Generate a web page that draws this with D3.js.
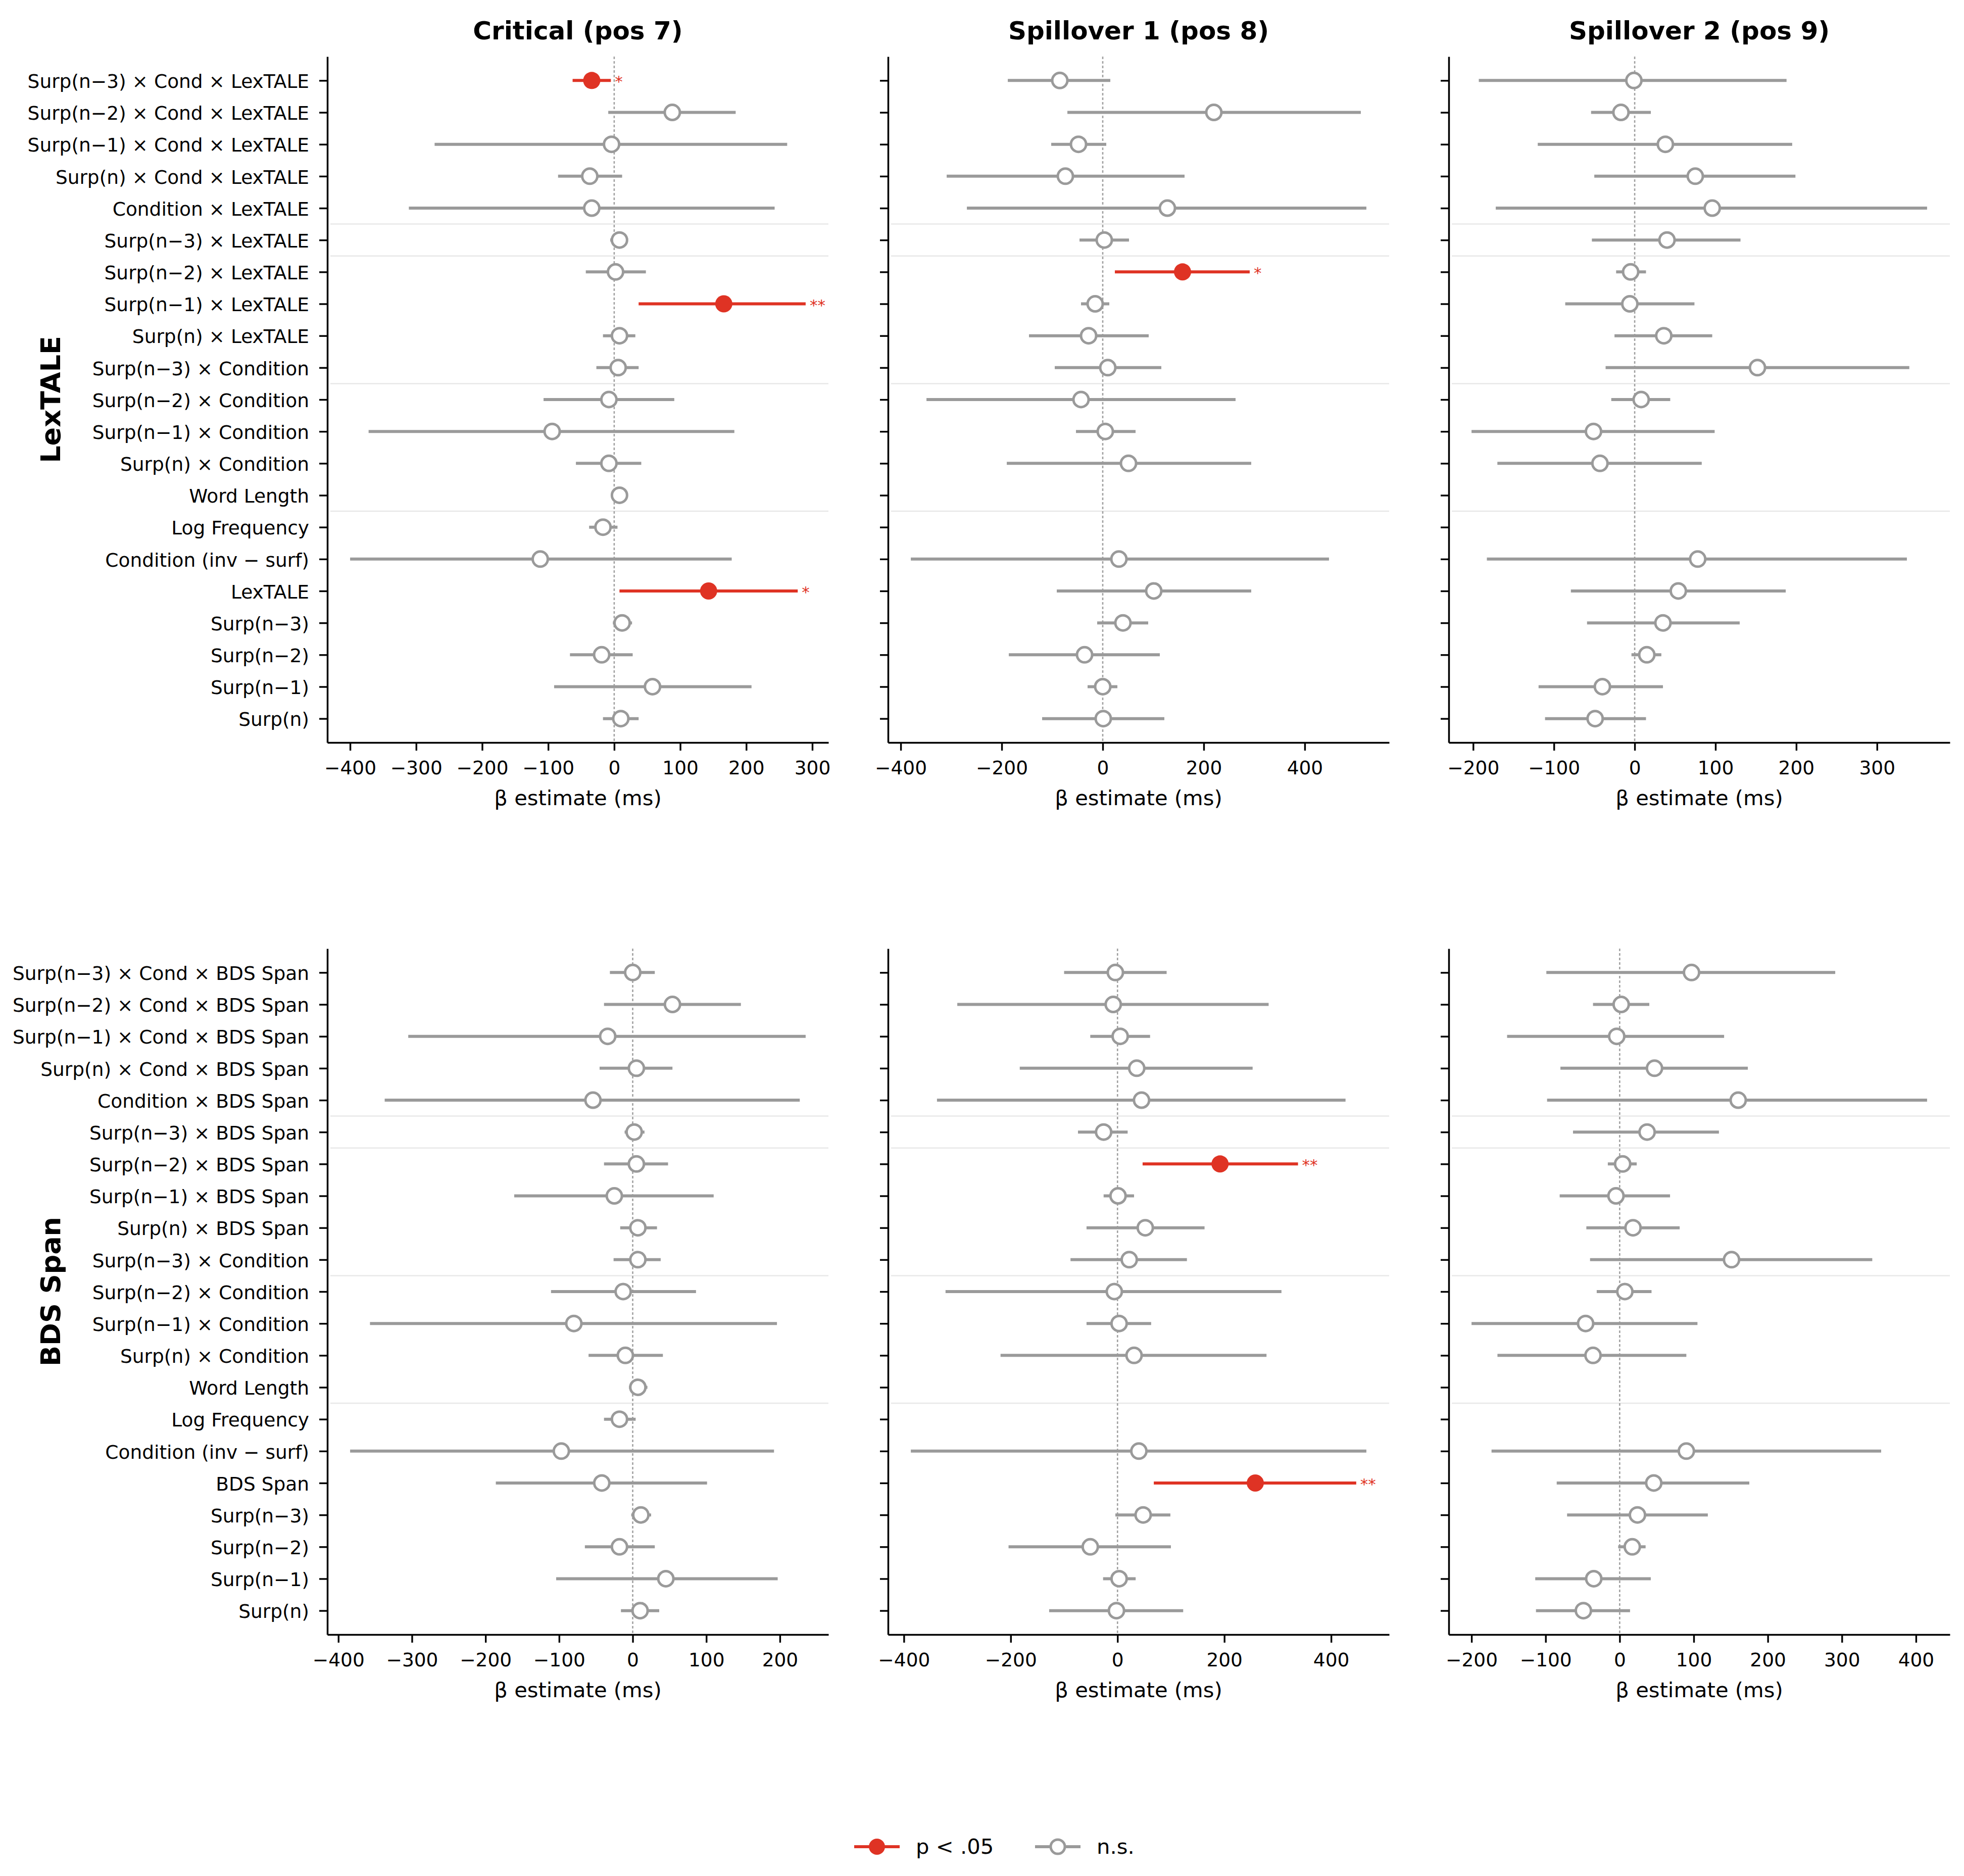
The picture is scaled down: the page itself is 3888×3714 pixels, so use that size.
<!DOCTYPE html>
<html><head><meta charset="utf-8">
<script src="https://cdn.jsdelivr.net/npm/d3@7"></script>
<style>body{margin:0;background:#fff}</style>
</head><body>
<svg id="c" width="3888" height="3714" xmlns="http://www.w3.org/2000/svg"></svg>
<script>
// ---------------- DATA ----------------
const lexLabels = [
  "Surp(n\u22123) \u00d7 Cond \u00d7 LexTALE", "Surp(n\u22122) \u00d7 Cond \u00d7 LexTALE",
  "Surp(n\u22121) \u00d7 Cond \u00d7 LexTALE", "Surp(n) \u00d7 Cond \u00d7 LexTALE",
  "Condition \u00d7 LexTALE", "Surp(n\u22123) \u00d7 LexTALE", "Surp(n\u22122) \u00d7 LexTALE",
  "Surp(n\u22121) \u00d7 LexTALE", "Surp(n) \u00d7 LexTALE", "Surp(n\u22123) \u00d7 Condition",
  "Surp(n\u22122) \u00d7 Condition", "Surp(n\u22121) \u00d7 Condition", "Surp(n) \u00d7 Condition",
  "Word Length", "Log Frequency", "Condition (inv \u2212 surf)", "LexTALE",
  "Surp(n\u22123)", "Surp(n\u22122)", "Surp(n\u22121)", "Surp(n)"
];
const bdsLabels = [
  "Surp(n\u22123) \u00d7 Cond \u00d7 BDS Span", "Surp(n\u22122) \u00d7 Cond \u00d7 BDS Span",
  "Surp(n\u22121) \u00d7 Cond \u00d7 BDS Span", "Surp(n) \u00d7 Cond \u00d7 BDS Span",
  "Condition \u00d7 BDS Span", "Surp(n\u22123) \u00d7 BDS Span", "Surp(n\u22122) \u00d7 BDS Span",
  "Surp(n\u22121) \u00d7 BDS Span", "Surp(n) \u00d7 BDS Span", "Surp(n\u22123) \u00d7 Condition",
  "Surp(n\u22122) \u00d7 Condition", "Surp(n\u22121) \u00d7 Condition", "Surp(n) \u00d7 Condition",
  "Word Length", "Log Frequency", "Condition (inv \u2212 surf)", "BDS Span",
  "Surp(n\u22123)", "Surp(n\u22122)", "Surp(n\u22121)", "Surp(n)"
];
const panelTitles = ["Critical (pos 7)", "Spillover 1 (pos 8)", "Spillover 2 (pos 9)"];
const rowTitles = ["LexTALE", "BDS Span"];
const separatorRows = [4.5, 5.5, 9.5, 13.5];
const xAxisLabel = "\u03b2 estimate (ms)";
const legendLabels = ["p < .05", "n.s."];

// LexTALE, Critical (pos 7)
const lexCritEst = [-34, 88, -4, -37, -34, 8, 2, 166, 8, 6, -8, -94, -8, 8, -17, -112, 143, 12, -19, 58, 10];
const lexCritLo  = [-63, -9, -272, -85, -311, -6, -43, 37, -17, -27, -107, -372, -58, -4, -38, -400, 8, -2, -67, -91, -17];
const lexCritHi  = [-5, 184, 262, 12, 243, 18, 48, 290, 32, 37, 91, 182, 41, 20, 5, 178, 278, 27, 28, 208, 37];
const lexCritSig = ["*", "", "", "", "", "", "", "**", "", "", "", "", "", "", "", "", "*", "", "", "", ""];
// LexTALE, Spillover 1 (pos 8)
const lexSp1Est = [-85, 220, -48, -74, 128, 3, 158, -15, -28, 10, -43, 5, 51, null, null, 32, 101, 40, -36, 0, 1];
const lexSp1Lo  = [-188, -70, -102, -309, -269, -46, 24, -43, -146, -95, -349, -53, -190, null, null, -380, -91, -11, -186, -30, -120];
const lexSp1Hi  = [15, 511, 7, 162, 522, 52, 291, 13, 91, 116, 263, 65, 294, null, null, 448, 294, 90, 113, 29, 122];
const lexSp1Sig = ["", "", "", "", "", "", "*", "", "", "", "", "", "", "", "", "", "", "", "", "", ""];
// LexTALE, Spillover 2 (pos 9)
const lexSp2Est = [-1, -17, 38, 75, 96, 40, -5, -6, 36, 152, 8, -51, -43, null, null, 78, 54, 35, 15, -40, -49];
const lexSp2Lo  = [-193, -54, -120, -50, -172, -53, -23, -86, -25, -36, -29, -202, -170, null, null, -183, -79, -59, -4, -119, -111];
const lexSp2Hi  = [188, 20, 195, 199, 362, 131, 14, 74, 96, 340, 44, 99, 83, null, null, 337, 187, 130, 33, 35, 14];
const lexSp2Sig = ["", "", "", "", "", "", "", "", "", "", "", "", "", "", "", "", "", "", "", "", ""];
// BDS Span, Critical (pos 7)
const bdsCritEst = [0, 54, -34, 5, -54, 2, 5, -25, 7, 7, -13, -80, -10, 7, -18, -97, -42, 11, -18, 45, 10];
const bdsCritLo  = [-31, -39, -305, -45, -337, -11, -39, -161, -17, -26, -111, -357, -60, -5, -39, -384, -186, -2, -65, -104, -16];
const bdsCritHi  = [30, 147, 235, 54, 227, 16, 48, 110, 33, 38, 86, 196, 41, 20, 4, 192, 101, 25, 30, 197, 36];
const bdsCritSig = ["", "", "", "", "", "", "", "", "", "", "", "", "", "", "", "", "", "", "", "", ""];
// BDS Span, Spillover 1 (pos 8)
const bdsSp1Est = [-4, -8, 5, 36, 45, -26, 192, 1, 52, 22, -6, 3, 31, null, null, 40, 258, 48, -51, 3, -2];
const bdsSp1Lo  = [-100, -300, -51, -183, -338, -74, 47, -26, -58, -88, -322, -58, -219, null, null, -387, 68, -4, -204, -27, -128];
const bdsSp1Hi  = [92, 283, 61, 253, 427, 19, 338, 31, 163, 130, 307, 63, 279, null, null, 466, 447, 99, 100, 34, 123];
const bdsSp1Sig = ["", "", "", "", "", "", "**", "", "", "", "", "", "", "", "", "", "**", "", "", "", ""];
// BDS Span, Spillover 2 (pos 9)
const bdsSp2Est = [97, 2, -4, 47, 160, 37, 4, -5, 18, 151, 7, -46, -36, null, null, 90, 46, 24, 17, -35, -49];
const bdsSp2Lo  = [-99, -36, -152, -80, -98, -63, -16, -81, -45, -40, -31, -200, -165, null, null, -173, -85, -71, -2, -114, -113];
const bdsSp2Hi  = [291, 40, 141, 173, 415, 134, 23, 68, 81, 341, 43, 105, 90, null, null, 353, 175, 119, 35, 42, 14];
const bdsSp2Sig = ["", "", "", "", "", "", "", "", "", "", "", "", "", "", "", "", "", "", "", "", ""];

// tick values
const ticksCritLex = [-400, -300, -200, -100, 0, 100, 200, 300];
const ticksSp1 = [-400, -200, 0, 200, 400];
const ticksSp2Lex = [-200, -100, 0, 100, 200, 300];
const ticksCritBds = [-400, -300, -200, -100, 0, 100, 200];
const ticksSp2Bds = [-200, -100, 0, 100, 200, 300, 400];

// ---------------- LAYOUT / STYLE ----------------
const W = 3888, H = 3714;
const FONT = "'DejaVu Sans', Verdana, sans-serif";
const RED = "#df3324", GRAY = "#9a9a9a";
const colLeft = [648, 1758, 2868], axW = 992;
const rowTop = [112, 1878], axH = 1358;

const panels = [
  {r: 0, c: 0, labels: lexLabels, est: lexCritEst, lo: lexCritLo, hi: lexCritHi, sig: lexCritSig, ticks: ticksCritLex},
  {r: 0, c: 1, labels: lexLabels, est: lexSp1Est, lo: lexSp1Lo, hi: lexSp1Hi, sig: lexSp1Sig, ticks: ticksSp1},
  {r: 0, c: 2, labels: lexLabels, est: lexSp2Est, lo: lexSp2Lo, hi: lexSp2Hi, sig: lexSp2Sig, ticks: ticksSp2Lex},
  {r: 1, c: 0, labels: bdsLabels, est: bdsCritEst, lo: bdsCritLo, hi: bdsCritHi, sig: bdsCritSig, ticks: ticksCritBds},
  {r: 1, c: 1, labels: bdsLabels, est: bdsSp1Est, lo: bdsSp1Lo, hi: bdsSp1Hi, sig: bdsSp1Sig, ticks: ticksSp1},
  {r: 1, c: 2, labels: bdsLabels, est: bdsSp2Est, lo: bdsSp2Lo, hi: bdsSp2Hi, sig: bdsSp2Sig, ticks: ticksSp2Bds}
];

const svg = d3.select("#c");
svg.append("rect").attr("width", W).attr("height", H).attr("fill", "#fff");
const fmt = d => d < 0 ? "\u2212" + Math.abs(d) : String(d);

panels.forEach(p => {
  const x0 = colLeft[p.c], y0 = rowTop[p.r];
  const mn = d3.min(p.lo), mx = d3.max(p.hi), pad = (mx - mn) * 0.05;
  const x = d3.scaleLinear().domain([mn - pad, mx + pad]).range([x0, x0 + axW]);
  const y = d3.scaleLinear().domain([-0.75, 20.75]).range([y0, y0 + axH]);
  const g = svg.append("g");

  // separators
  g.selectAll("line.sep").data(separatorRows).join("line").attr("class", "sep")
    .attr("x1", x0 + 6).attr("x2", x0 + axW).attr("y1", d => y(d)).attr("y2", d => y(d))
    .attr("stroke", "#e8e8e8").attr("stroke-width", 2.5);

  // zero line
  g.append("line").attr("x1", x(0)).attr("x2", x(0)).attr("y1", y0).attr("y2", y0 + axH)
    .attr("stroke", "#a0a0a0").attr("stroke-width", 2.6).attr("stroke-dasharray", "5,4");

  const rows = p.est.map((e, i) => ({i, e, lo: p.lo[i], hi: p.hi[i], s: p.sig[i]})).filter(d => d.e != null);

  g.selectAll("line.ci").data(rows).join("line").attr("class", "ci")
    .attr("x1", d => x(d.lo)).attr("x2", d => x(d.hi)).attr("y1", d => y(d.i)).attr("y2", d => y(d.i))
    .attr("stroke", d => d.s ? RED : GRAY).attr("stroke-width", 6);

  g.selectAll("circle.pt").data(rows).join("circle").attr("class", "pt")
    .attr("cx", d => x(d.e)).attr("cy", d => y(d.i))
    .attr("r", d => d.s ? 17 : 15)
    .attr("fill", d => d.s ? RED : "#fff")
    .attr("stroke", d => d.s ? "none" : GRAY).attr("stroke-width", 5);

  g.selectAll("text.star").data(rows.filter(d => d.s)).join("text").attr("class", "star")
    .attr("x", d => x(d.hi) + 8).attr("y", d => y(d.i) + 13)
    .attr("fill", RED).attr("font-family", FONT).attr("font-size", 31).text(d => d.s);

  // axes
  const xa = g.append("g").attr("transform", `translate(0,${y0 + axH})`)
    .call(d3.axisBottom(x).tickValues(p.ticks).tickFormat(fmt).tickSize(16).tickSizeOuter(0).tickPadding(20));
  const ya = g.append("g").attr("transform", `translate(${x0},0)`)
    .call(d3.axisLeft(y).tickValues(d3.range(21)).tickFormat(i => p.c === 0 ? p.labels[i] : "")
      .tickSize(16).tickSizeOuter(0).tickPadding(20));
  [xa, ya].forEach(a => {
    a.attr("font-family", FONT).attr("font-size", 37.5);
    a.selectAll("path.domain").attr("stroke", "#000").attr("stroke-width", 3.5);
    a.selectAll(".tick line").attr("stroke", "#000").attr("stroke-width", 3.4);
    a.selectAll(".tick text").attr("fill", "#000");
  });
  ya.selectAll(".tick text").attr("dy", "0.38em");

  g.append("text").attr("x", x0 + axW / 2).attr("y", y0 + axH + 124)
    .attr("text-anchor", "middle").attr("font-family", FONT).attr("font-size", 41.7)
    .attr("fill", "#000").text(xAxisLabel);

  if (p.r === 0) {
    g.append("text").attr("x", x0 + axW / 2).attr("y", 78)
      .attr("text-anchor", "middle").attr("font-family", FONT).attr("font-size", 50)
      .attr("font-weight", "bold").attr("fill", "#000").text(panelTitles[p.c]);
  }
  if (p.c === 0) {
    g.append("text").attr("transform", `translate(119,${y0 + axH / 2}) rotate(-90)`)
      .attr("text-anchor", "middle").attr("font-family", FONT).attr("font-size", 54)
      .attr("font-weight", "bold").attr("fill", "#000").text(rowTitles[p.r]);
  }
});

// legend
const leg = svg.append("g");
const legItems = [{x: 1691, sig: true, label: legendLabels[0]}, {x: 2049, sig: false, label: legendLabels[1]}];
const ly = 3656;
legItems.forEach(it => {
  leg.append("line").attr("x1", it.x).attr("x2", it.x + 90).attr("y1", ly).attr("y2", ly)
    .attr("stroke", it.sig ? RED : GRAY).attr("stroke-width", 6);
  leg.append("circle").attr("cx", it.x + 45).attr("cy", ly).attr("r", it.sig ? 16 : 14)
    .attr("fill", it.sig ? RED : "#fff").attr("stroke", it.sig ? "none" : GRAY).attr("stroke-width", 5);
  leg.append("text").attr("x", it.x + 122).attr("y", ly + 14).attr("font-family", FONT)
    .attr("font-size", 41.7).attr("fill", "#000").text(it.label);
});
</script>
</body></html>
